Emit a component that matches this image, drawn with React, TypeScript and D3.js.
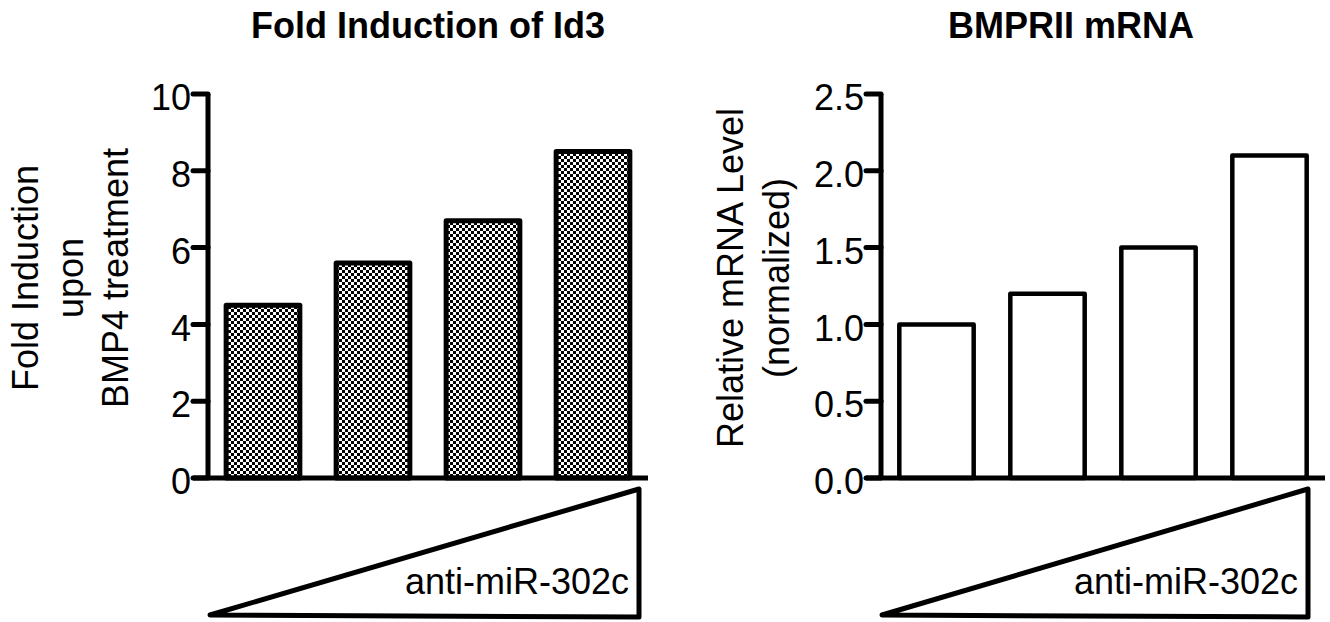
import * as d3 from "d3";

// four increasing doses of anti-miR-302c (no tick labels in the figure)
const doses = ["dose1", "dose2", "dose3", "dose4"];

const id3FoldInduction = [4.5, 5.6, 6.7, 8.5];
const bmpr2Relative = [1.0, 1.2, 1.5, 2.1];

const id3Ticks = [0, 2, 4, 6, 8, 10];
const bmpr2Ticks = [0, 0.5, 1.0, 1.5, 2.0, 2.5];

const id3Label = ["Fold Induction", "upon", "BMP4 treatment"];
const bmpr2Label = ["Relative mRNA Level", "(normalized)"];

const wedgeText = "anti-miR-302c";

const FONT = "'Liberation Sans', Arial, Helvetica, sans-serif";
const W = 1330;
const H = 622;
const yTop = 94;
const yBottom = 478;

interface Panel {
  title: string;
  titleX: number;
  labelLines: string[];
  labelXs: number[];
  axisX: number;
  rangeEnd: number;
  yMax: number;
  ticks: number[];
  fmt: (n: number) => string;
  values: number[];
  fill: string;
  barStroke: number;
  wedge: { x0: number; x1: number; top: number; bottom: number };
}

const panels: Panel[] = [
  {
    title: "Fold Induction of Id3",
    titleX: 428,
    labelLines: id3Label,
    labelXs: [38, 83, 128],
    axisX: 208,
    rangeEnd: 648,
    yMax: 10,
    ticks: id3Ticks,
    fmt: d3.format("d"),
    values: id3FoldInduction,
    fill: "url(#checker)",
    barStroke: 5,
    wedge: { x0: 210, x1: 639, top: 489, bottom: 617 },
  },
  {
    title: "BMPRII mRNA",
    titleX: 1071,
    labelLines: bmpr2Label,
    labelXs: [743, 789],
    axisX: 881,
    rangeEnd: 1325,
    yMax: 2.5,
    ticks: bmpr2Ticks,
    fmt: d3.format(".1f"),
    values: bmpr2Relative,
    fill: "#fff",
    barStroke: 4.5,
    wedge: { x0: 882, x1: 1308, top: 489, bottom: 617 },
  },
];

function BarPanel({ p }: { p: Panel }) {
  const x = d3
    .scaleBand<string>()
    .domain(doses)
    .range([p.axisX, p.rangeEnd])
    .paddingInner(0.33)
    .paddingOuter(0.165);
  const y = d3.scaleLinear().domain([0, p.yMax]).range([yBottom, yTop]);
  const labelY = 278;
  const tickLen = 15;

  const wedgePath = d3.line()([
    [p.wedge.x0, p.wedge.bottom - 2],
    [p.wedge.x1, p.wedge.top],
    [p.wedge.x1, p.wedge.bottom],
  ]);

  return (
    <g fontFamily={FONT}>
      <text
        x={p.titleX}
        y={38}
        textAnchor="middle"
        fontWeight="bold"
        fontSize={36}
      >
        {p.title}
      </text>

      {p.labelLines.map((line, i) => (
        <text
          key={line}
          transform={`translate(${p.labelXs[i]},${labelY}) rotate(-90)`}
          textAnchor="middle"
          fontSize={36}
        >
          {line}
        </text>
      ))}

      {doses.map((d, i) => (
        <rect
          key={d}
          x={x(d)}
          y={y(p.values[i])}
          width={x.bandwidth()}
          height={y(0) - y(p.values[i])}
          fill={p.fill}
          stroke="#000"
          strokeWidth={p.barStroke}
          strokeLinejoin="round"
        />
      ))}

      <path
        d={`M${p.axisX},${y(0)}V${y(p.yMax)}`}
        stroke="#000"
        strokeWidth={5}
        fill="none"
      />
      <path
        d={`M${p.axisX - tickLen},${y(0)}H${p.rangeEnd}`}
        stroke="#000"
        strokeWidth={5}
        fill="none"
      />
      {p.ticks.map((t) => (
        <g key={t} transform={`translate(0,${y(t)})`}>
          <line
            x1={p.axisX - tickLen}
            x2={p.axisX}
            stroke="#000"
            strokeWidth={5}
            strokeLinecap="round"
          />
          <text
            x={p.axisX - tickLen - 2}
            dy="0.45em"
            textAnchor="end"
            fontSize={36}
          >
            {p.fmt(t)}
          </text>
        </g>
      ))}

      <path
        d={wedgePath + "Z"}
        fill="none"
        stroke="#000"
        strokeWidth={5}
        strokeLinejoin="round"
      />
      <text
        x={p.wedge.x1 - 10}
        y={594}
        textAnchor="end"
        fontSize={36}
      >
        {wedgeText}
      </text>
    </g>
  );
}

export default function App() {
  return (
    <svg
      width={W}
      height={H}
      viewBox={`0 0 ${W} ${H}`}
      style={{ position: "absolute", left: 0, top: 0, background: "#fff" }}
    >
      <defs>
        <pattern
          id="checker"
          width={6}
          height={6}
          patternUnits="userSpaceOnUse"
        >
          <rect width={6} height={6} fill="#fff" />
          <rect width={3} height={3} fill="#000" />
          <rect x={3} y={3} width={3} height={3} fill="#000" />
        </pattern>
      </defs>
      <rect width={W} height={H} fill="#fff" />
      {panels.map((p) => (
        <BarPanel key={p.title} p={p} />
      ))}
    </svg>
  );
}
